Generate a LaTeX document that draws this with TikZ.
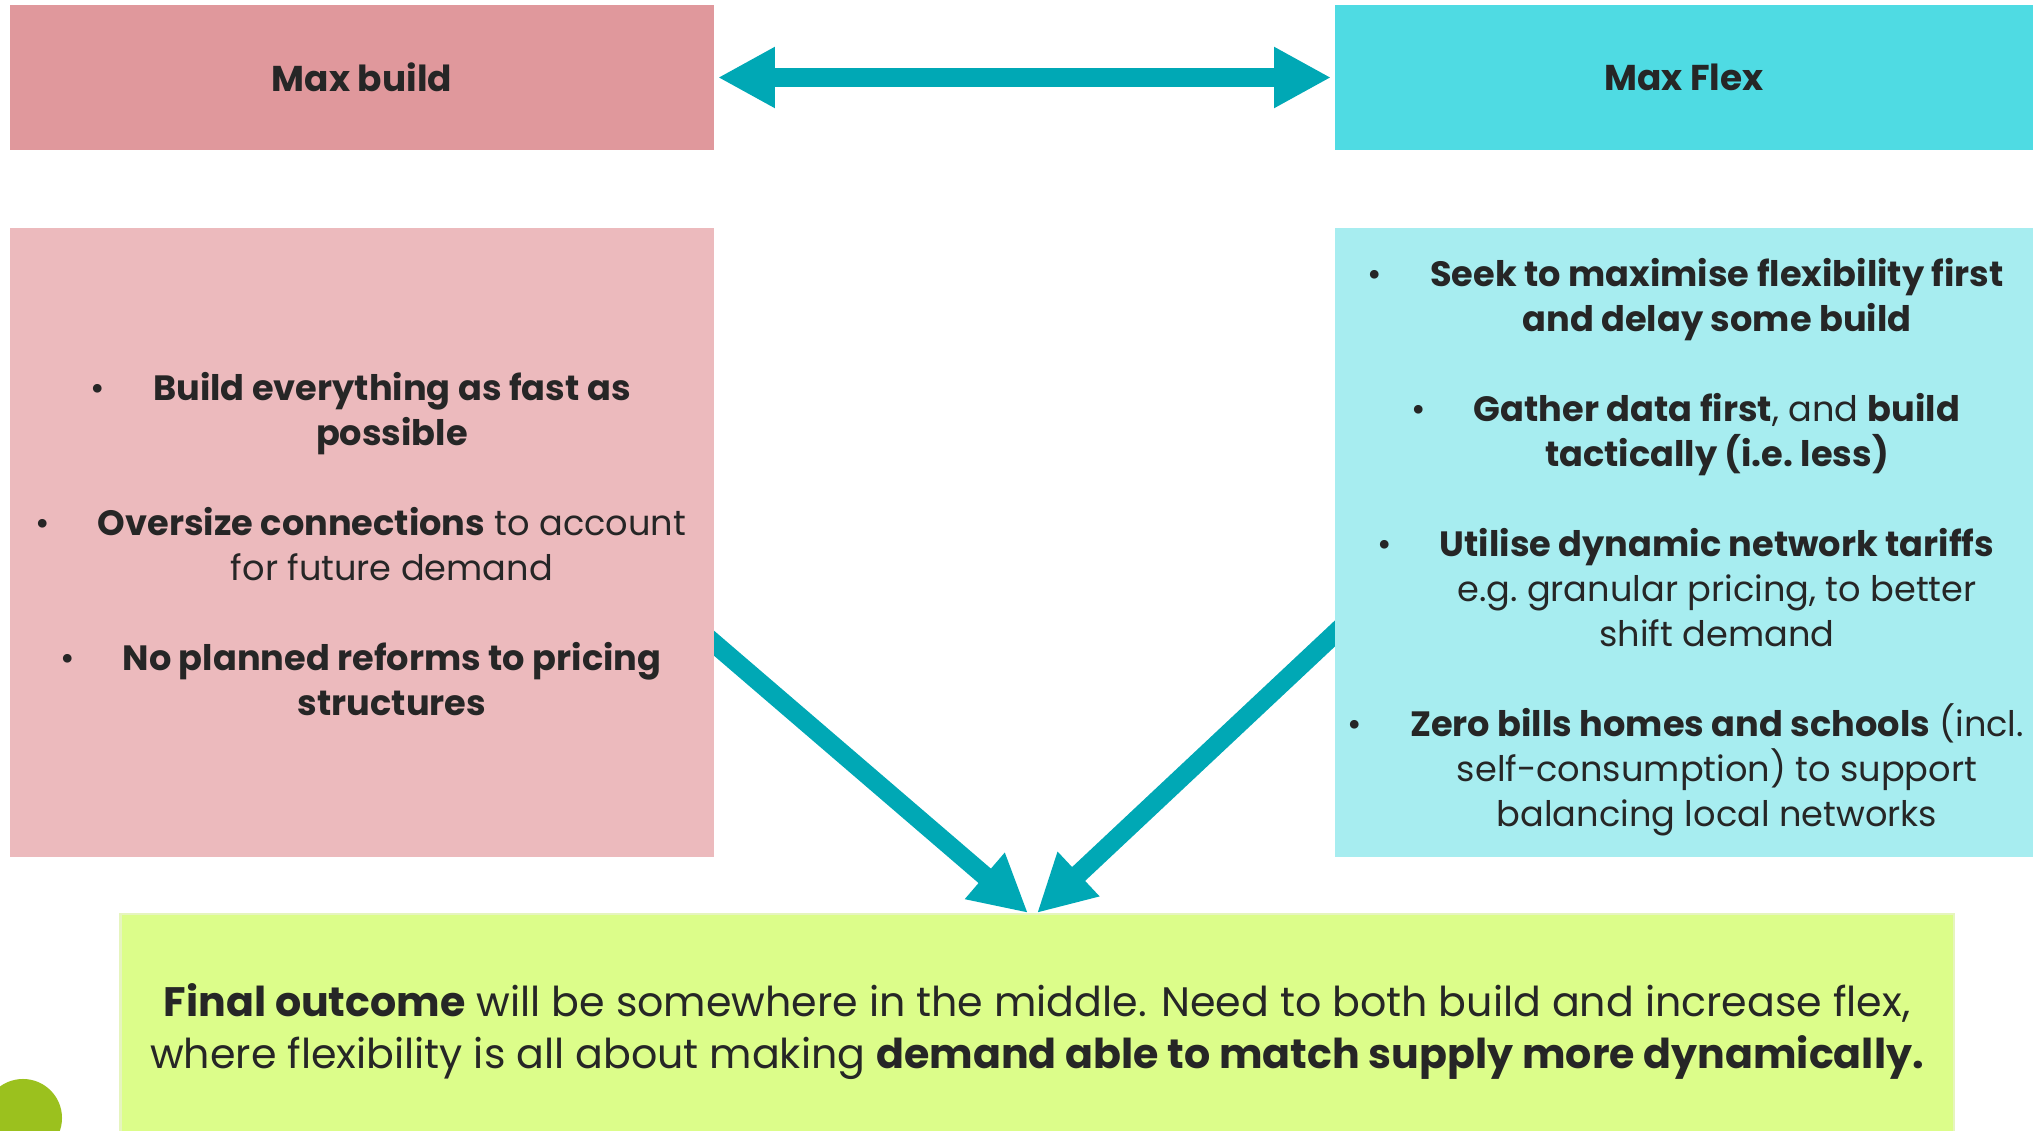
\documentclass[tikz,border=0pt]{standalone}
\usepackage{fontspec}
\setmainfont{Poppins}
\usetikzlibrary{arrows.meta,calc,positioning,backgrounds}

\definecolor{buildhead}{RGB}{224,152,156}
\definecolor{buildbody}{RGB}{236,186,189}
\definecolor{flexhead}{RGB}{79,219,227}
\definecolor{flexbody}{RGB}{167,237,240}
\definecolor{outcome}{RGB}{220,253,138}
\definecolor{outcomeline}{RGB}{230,245,190}
\definecolor{arrowteal}{RGB}{0,168,181}
\definecolor{dotgreen}{RGB}{155,193,30}
\definecolor{ink}{RGB}{38,38,38}

\newcommand{\bul}{\llap{\textbullet\hspace{0.48cm}}}

\begin{document}
\begin{tikzpicture}[x=0.01cm,y=-0.01cm]

\tikzset{inner sep=0mm,
panel/.style={rectangle,minimum width=7.04cm,minimum height=6.29cm},
headbox/.style={rectangle,minimum width=7.04cm,minimum height=1.45cm,text=ink,font=\bfseries\fontsize{10.2pt}{13pt}\selectfont},
listtext/.style={align=center,text=ink,font=\fontsize{10pt}{12.8pt}\selectfont},
bigarrow/.style={draw=arrowteal,line width=0.19cm,-{Triangle[length=0.57cm,width=0.57cm]}}}

\useasboundingbox (0,0) rectangle (2033,1131);
\clip (0,0) rectangle (2033,1131);

% Headings
\node[headbox,fill=buildhead] (build) at (362,77.5) {Max build};
\node[headbox,fill=flexhead,minimum width=6.98cm] (flex) at (1684,77.5) {Max Flex};

% Panels
\node[panel,fill=buildbody] (buildlist) at (362,542.5) {};
\node[panel,fill=flexbody,minimum width=6.98cm] (flexlist) at (1684,542.5) {};
\node[panel,fill=outcome,draw=outcomeline,line width=0.6pt,minimum width=18.32cm,minimum height=2.4cm,anchor=north] (result) at (1037,913) {};

% Green dot
\node[circle,fill=dotgreen,minimum size=0.78cm] (dot) at (23,1118) {};

% Panel texts
\node[listtext] (buildtext) at (392,544) {\bul\textbf{Build everything as fast as}\\
\textbf{possible}\\[12.8pt]
\bul\textbf{Oversize connections} to account\\
for future demand\\[12.8pt]
\bul\textbf{No planned reforms to pricing}\\
\textbf{structures}};

\node[listtext] (flextext) at (1717,547) {\bul\textbf{Seek to maximise flexibility first}\\
\textbf{and delay some build}\\[12.8pt]
\bul\textbf{Gather data first}, and \textbf{build}\\
\textbf{tactically (i.e.\ less)}\\[12.8pt]
\bul\textbf{Utilise dynamic network tariffs}\\
e.g.\ granular pricing, to better\\
shift demand\\[12.8pt]
\bul\textbf{Zero bills homes and schools} (incl.\\
self-consumption) to support\\
balancing local networks};

\node[listtext,font=\fontsize{11.7pt}{14.8pt}\selectfont] (resulttext) at (1037,1032) {\textbf{Final outcome} will be somewhere in the middle. Need to both build and increase flex,\\
where flexibility is all about making \textbf{demand able to match supply more dynamically.}};

% Arrows
\coordinate (buildtail) at (687,620);
\coordinate (flextail) at (1361,609);
\begin{scope}[on background layer]
\draw[bigarrow] (buildtail) -- ($(result.north)+(-9,0)$);
\draw[bigarrow] (flextail) -- (result.north);
\end{scope}
\draw[bigarrow,{Triangle[length=0.57cm,width=0.57cm]}-{Triangle[length=0.57cm,width=0.57cm]},shorten <=0.03cm,shorten >=0.03cm] (build.east) -- (flex.west);

\end{tikzpicture}
\end{document}
